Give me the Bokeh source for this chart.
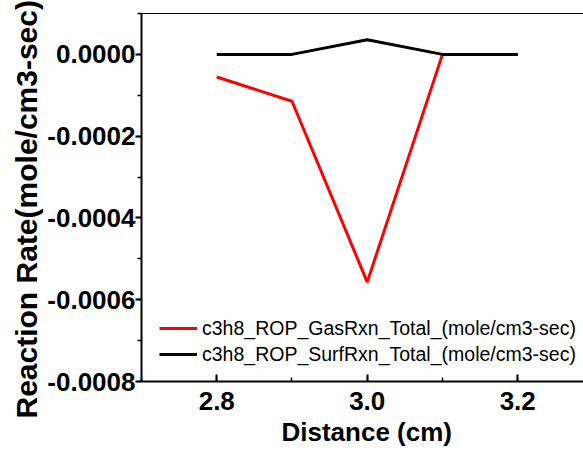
from bokeh.plotting import figure
from bokeh.models import (Range1d, SingleIntervalTicker, PrintfTickFormatter, LinearAxis,
                          FixedTicker, Legend, LegendItem, Title)
from bokeh.embed import file_html
from bokeh.resources import INLINE

distance = [2.8, 2.9, 3.0, 3.1, 3.2]
gas_rxn = [-0.0000553, -0.0001146, -0.000557, 0.0, 0.0]
surf_rxn = [0.0, 0.0, 0.0000358, 0.0, 0.0]
gas_label = "c3h8_ROP_GasRxn_Total_(mole/cm3-sec)"
surf_label = "c3h8_ROP_SurfRxn_Total_(mole/cm3-sec)"
x_title = "Distance (cm)"
y_title = "Reaction Rate(mole/cm3-sec)"

FONT = "Liberation Sans"

p = figure(width=583, height=455, output_backend="svg", toolbar_location=None,
           x_range=Range1d(2.7, 3.2874), y_range=Range1d(-0.0008, 0.0001),
           min_border_left=141, min_border_right=0, min_border_top=13, min_border_bottom=74)
p.grid.visible = False
p.outline_line_color = None
p.background_fill_color = "white"
p.border_fill_color = "white"

r_gas = p.line(distance, gas_rxn, line_color="red", line_width=3)
r_surf = p.line(distance, surf_rxn, line_color="black", line_width=3)

# x axis
xa = p.xaxis[0]
xa.ticker = SingleIntervalTicker(interval=0.2, num_minor_ticks=2)
xa.formatter = PrintfTickFormatter(format="%.1f")
xa.axis_line_width = 2
xa.major_tick_in = 7
xa.major_tick_out = 0
xa.minor_tick_in = 4
xa.minor_tick_out = 0
xa.major_tick_line_width = 2
xa.minor_tick_line_width = 1.5
xa.major_label_text_font = FONT
xa.major_label_text_font_style = "bold"
xa.major_label_text_font_size = "26px"
xa.major_label_text_color = "black"
xa.major_label_standoff = 10

# y axis
ya = p.yaxis[0]
ya.ticker = SingleIntervalTicker(interval=0.0002, num_minor_ticks=2)
ya.formatter = PrintfTickFormatter(format="%.4f")
ya.axis_line_width = 2
ya.major_tick_in = 0
ya.major_tick_out = 6
ya.minor_tick_in = 0
ya.minor_tick_out = 4
ya.major_tick_line_width = 2
ya.minor_tick_line_width = 1.5
ya.major_label_text_font = FONT
ya.major_label_text_font_style = "bold"
ya.major_label_text_font_size = "26px"
ya.major_label_text_color = "black"
ya.major_label_standoff = 0

# top border line
top = LinearAxis(ticker=FixedTicker(ticks=[]), axis_line_width=1,
                 major_tick_in=0, major_tick_out=0, minor_tick_in=0, minor_tick_out=0,
                 major_label_text_font_size="0px", major_label_standoff=0)
p.add_layout(top, "above")

# axis titles
p.add_layout(Title(text=x_title, align="left", offset=140, standoff=5,
                   text_font=FONT, text_font_style="bold", text_font_size="26px",
                   text_color="black"), "below")
p.add_layout(Title(text=y_title, align="left", offset=-37, standoff=4,
                   text_font=FONT, text_font_style="bold", text_font_size="30px",
                   text_color="black"), "left")

legend = Legend(items=[LegendItem(label=gas_label, renderers=[r_gas]),
                       LegendItem(label=surf_label, renderers=[r_surf])],
                location=(18, 14), padding=0, margin=0, spacing=0,
                glyph_width=38, glyph_height=26, label_height=26, label_standoff=5,
                label_text_font=FONT, label_text_font_size="19.5px", label_text_color="black",
                border_line_color=None, background_fill_alpha=0)
p.add_layout(legend, "center")

open("out.html", "w").write(file_html(p, INLINE))
